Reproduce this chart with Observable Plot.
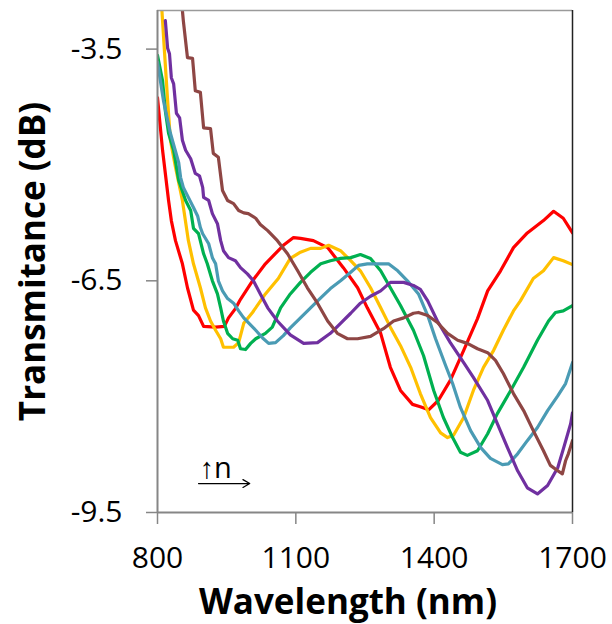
<!DOCTYPE html>
<html>
<head>
<meta charset="utf-8">
<script src="https://cdn.jsdelivr.net/npm/d3@7"></script>
<script src="https://cdn.jsdelivr.net/npm/@observablehq/plot@0.6"></script>
<style>
  html, body { margin: 0; padding: 0; background: #fff; }
  #chart { width: 612px; height: 624px; }
</style>
</head>
<body>
<div id="chart"></div>
<script>
// Axis settings
const xDomain = [800, 1700];
const yDomain = [-9.5, -3];
const xTicks = [800, 1100, 1400, 1700];
const yTicks = [-3.5, -6.5, -9.5];

// Series (n increases from s1 to s6) and colours
const seriesNames = ["s1", "s2", "s3", "s4", "s5", "s6"];
const seriesColors = ["#FF0000", "#FFC000", "#00B050", "#4A9BB4", "#7030A0", "#8E4644"];

// Series data: wavelength (nm) and transmittance (dB)
const s1Wl = [800, 811, 824, 830, 839, 854, 865, 878, 889, 900, 926, 945, 954, 969, 980, 1006, 1034, 1073, 1095, 1110, 1138, 1169, 1203, 1234, 1255, 1284, 1305, 1327, 1353, 1370, 1388, 1409, 1435, 1464, 1494, 1516, 1544, 1572, 1602, 1637, 1659, 1680, 1700];
const s1Db = [-4.13, -4.81, -5.46, -5.72, -5.98, -6.28, -6.59, -6.88, -6.95, -7.09, -7.10, -7.09, -6.98, -6.86, -6.74, -6.50, -6.28, -6.04, -5.94, -5.95, -5.98, -6.07, -6.33, -6.59, -6.85, -7.18, -7.62, -7.92, -8.10, -8.13, -8.17, -8.05, -7.79, -7.40, -6.99, -6.63, -6.37, -6.07, -5.88, -5.72, -5.60, -5.69, -5.88];

const s2Wl = [808, 815, 822, 828, 839, 854, 867, 878, 893, 904, 915, 926, 937, 943, 965, 976, 987, 1006, 1034, 1062, 1088, 1110, 1132, 1154, 1171, 1197, 1219, 1240, 1262, 1284, 1305, 1327, 1349, 1370, 1392, 1414, 1429, 1442, 1464, 1485, 1507, 1529, 1550, 1572, 1587, 1615, 1637, 1659, 1680, 1700];
const s2Db = [-2.85, -3.52, -4.17, -4.68, -5.03, -5.46, -5.98, -6.28, -6.59, -6.85, -7.02, -7.14, -7.25, -7.36, -7.36, -7.30, -7.05, -6.91, -6.67, -6.47, -6.21, -6.13, -6.08, -6.08, -6.04, -6.11, -6.24, -6.37, -6.59, -6.85, -7.10, -7.34, -7.62, -7.96, -8.27, -8.47, -8.53, -8.50, -8.27, -7.92, -7.62, -7.40, -7.14, -6.89, -6.76, -6.47, -6.37, -6.20, -6.24, -6.29];

const s3Wl = [800, 811, 817, 824, 835, 846, 861, 872, 878, 889, 900, 908, 919, 930, 937, 943, 952, 963, 974, 980, 991, 1002, 1013, 1034, 1049, 1067, 1088, 1110, 1132, 1154, 1175, 1197, 1219, 1240, 1262, 1284, 1305, 1327, 1355, 1377, 1399, 1420, 1440, 1457, 1472, 1494, 1516, 1537, 1566, 1594, 1624, 1648, 1663, 1680, 1700];
const s3Db = [-3.58, -3.91, -4.30, -4.59, -4.81, -5.20, -5.46, -5.59, -5.82, -5.89, -6.15, -6.28, -6.50, -6.67, -6.85, -7.02, -7.18, -7.25, -7.27, -7.38, -7.39, -7.31, -7.25, -7.18, -7.10, -6.85, -6.67, -6.52, -6.39, -6.28, -6.24, -6.21, -6.20, -6.16, -6.21, -6.37, -6.59, -6.82, -7.14, -7.47, -7.92, -8.27, -8.53, -8.72, -8.76, -8.70, -8.48, -8.22, -7.92, -7.62, -7.27, -7.02, -6.91, -6.89, -6.82];

const s4Wl = [800, 813, 828, 846, 850, 856, 867, 878, 887, 893, 898, 911, 919, 926, 932, 941, 952, 965, 976, 987, 997, 1013, 1028, 1041, 1056, 1073, 1088, 1110, 1132, 1154, 1175, 1197, 1219, 1236, 1255, 1277, 1301, 1321, 1342, 1366, 1386, 1403, 1425, 1440, 1457, 1479, 1501, 1522, 1548, 1561, 1581, 1602, 1624, 1646, 1668, 1685, 1700];
const s4Db = [-3.67, -4.17, -4.59, -4.97, -5.16, -5.29, -5.42, -5.55, -5.66, -5.81, -5.89, -6.02, -6.20, -6.28, -6.50, -6.63, -6.73, -6.79, -6.89, -6.98, -7.04, -7.14, -7.24, -7.31, -7.30, -7.21, -7.11, -6.98, -6.85, -6.72, -6.60, -6.50, -6.39, -6.30, -6.28, -6.28, -6.28, -6.37, -6.50, -6.67, -6.95, -7.25, -7.60, -7.83, -8.14, -8.44, -8.66, -8.80, -8.88, -8.87, -8.74, -8.57, -8.40, -8.18, -7.99, -7.83, -7.56];

const s5Wl = [817, 822, 826, 830, 835, 841, 848, 854, 861, 872, 882, 891, 898, 900, 911, 919, 930, 937, 943, 954, 969, 980, 995, 1008, 1023, 1039, 1060, 1088, 1117, 1147, 1175, 1197, 1219, 1240, 1262, 1284, 1305, 1334, 1355, 1370, 1386, 1407, 1435, 1464, 1485, 1516, 1537, 1559, 1581, 1602, 1624, 1646, 1668, 1681, 1696, 1700];
const s5Db = [-3.13, -3.49, -3.56, -3.87, -3.95, -4.33, -4.39, -4.68, -4.81, -4.92, -5.11, -5.14, -5.29, -5.42, -5.46, -5.63, -5.76, -5.98, -6.11, -6.20, -6.24, -6.33, -6.41, -6.50, -6.67, -6.85, -7.02, -7.20, -7.31, -7.30, -7.18, -7.05, -6.92, -6.79, -6.70, -6.63, -6.52, -6.52, -6.56, -6.61, -6.76, -7.02, -7.30, -7.56, -7.75, -8.05, -8.35, -8.66, -8.96, -9.18, -9.26, -9.15, -8.92, -8.66, -8.35, -8.21];

const s6Wl = [852, 856, 865, 876, 882, 893, 900, 915, 921, 932, 941, 952, 965, 976, 987, 997, 1013, 1023, 1039, 1060, 1082, 1104, 1125, 1147, 1169, 1190, 1212, 1234, 1262, 1290, 1312, 1334, 1355, 1366, 1386, 1407, 1429, 1451, 1472, 1494, 1516, 1533, 1550, 1572, 1594, 1615, 1637, 1652, 1668, 1678, 1685, 1691, 1700];
const s6Db = [-2.87, -3.13, -3.61, -3.62, -4.04, -4.06, -4.52, -4.53, -4.85, -4.90, -5.33, -5.46, -5.50, -5.59, -5.62, -5.63, -5.69, -5.77, -5.85, -5.98, -6.15, -6.37, -6.59, -6.79, -7.02, -7.18, -7.25, -7.25, -7.22, -7.12, -7.02, -6.98, -6.92, -6.91, -6.95, -7.04, -7.18, -7.27, -7.31, -7.38, -7.43, -7.53, -7.70, -7.96, -8.18, -8.44, -8.70, -8.89, -8.96, -9.00, -8.83, -8.74, -8.57];

// Annotation (arrow showing increasing n)
const noteText = ["↑n"];
const noteX = [926];
const noteY = [-8.93];
const arrowX = [889, 1000];
const arrowY = [-9.125, -9.125];

const seriesWl = [s1Wl, s2Wl, s3Wl, s4Wl, s5Wl, s6Wl];
const seriesDb = [s1Db, s2Db, s3Db, s4Db, s5Db, s6Db];
const rows = [];
seriesNames.forEach((name, i) => {
  seriesWl[i].forEach((w, j) => rows.push({series: name, wl: w, db: seriesDb[i][j]}));
});

const chart = Plot.plot({
  width: 612,
  height: 624,
  marginTop: 10,
  marginRight: 40,
  marginBottom: 112,
  marginLeft: 157,
  style: {fontFamily: "'Open Sans', sans-serif", background: "#fff", color: "#000"},
  x: {domain: xDomain},
  y: {domain: yDomain},
  color: {type: "ordinal", domain: seriesNames, range: seriesColors},
  marks: [
    Plot.line(rows, {x: "wl", y: "db", z: "series", stroke: "series", strokeWidth: 3.2, clip: true, strokeLinejoin: "round"}),
    Plot.ruleY([yDomain[1]], {stroke: "#9a9a9a", strokeWidth: 1.5}),
    Plot.ruleY([yDomain[0]], {stroke: "#868686", strokeWidth: 2}),
    Plot.ruleX([xDomain[0]], {stroke: "#868686", strokeWidth: 2}),
    Plot.ruleX([xDomain[1]], {stroke: "#222", strokeWidth: 1.5}),
    Plot.axisX({ticks: xTicks, tickSize: 12, tickPadding: 22, fontSize: 30, stroke: "#868686", strokeWidth: 1.5, label: null, tickFormat: d => String(d)}),
    Plot.axisY({ticks: yTicks, tickSize: 11, tickPadding: 24, fontSize: 30, stroke: "#868686", strokeWidth: 1.5, label: null, tickFormat: d => d.toFixed(1)}),
    Plot.text(["Wavelength (nm)"], {frameAnchor: "bottom", dy: 90, dx: -17, fontSize: 35, fontWeight: "bold", fill: "#000", textAnchor: "middle", lineAnchor: "middle"}),
    Plot.text(["Transmitance (dB)"], {frameAnchor: "left", dx: -124, rotate: -90, fontSize: 35, fontWeight: "bold", fill: "#000", textAnchor: "middle", lineAnchor: "middle"}),
    Plot.text(noteText, {x: noteX, y: noteY, fontSize: 29, fill: "#000", lineAnchor: "middle"}),
    Plot.arrow([0], {x1: arrowX[0], y1: arrowY[0], x2: arrowX[1], y2: arrowY[1], stroke: "#000", strokeWidth: 1.3, headLength: 9, bend: 0})
  ]
});
document.getElementById("chart").appendChild(chart);
</script>
</body>
</html>
